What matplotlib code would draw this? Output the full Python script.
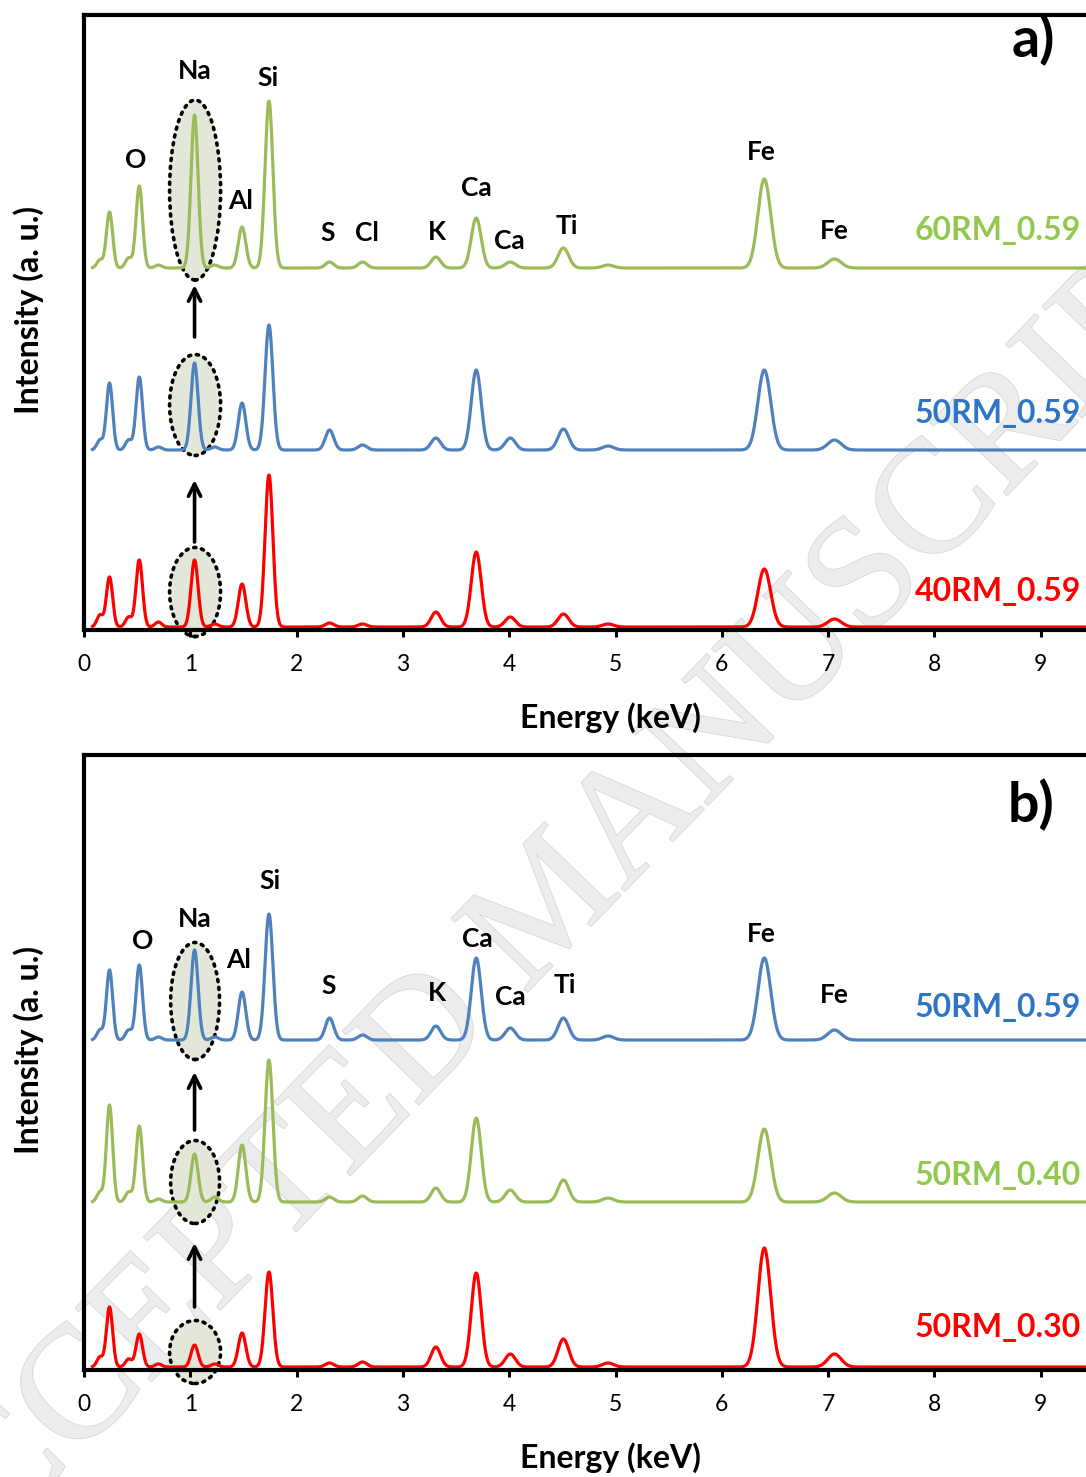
import numpy as np
import matplotlib.pyplot as plt
from matplotlib.patches import Ellipse
import matplotlib.patheffects as pe

plt.rcParams['font.family'] = ['Lato', 'DejaVu Sans']

# emission lines (keV) used to build the EDS spectra
lines_kev = [0.15, 0.24, 0.42, 0.52, 0.70, 1.04, 1.23, 1.487, 1.74, 2.31, 2.62,
             3.31, 3.69, 4.01, 4.51, 4.93, 6.40, 7.06]

# peak heights (a.u.) for each line, per sample
h_60rm_059 = [8, 56, 10, 82, 3, 153, 3, 41, 167, 6, 6, 11, 50, 6, 20, 3, 89, 9]
h_50rm_059a = [10, 67, 10, 73, 3, 87, 3, 47, 125, 20, 5, 12, 80, 12, 21, 4, 80, 10]
h_40rm_059 = [12, 50, 10, 67, 5, 67, 3, 43, 152, 4, 3, 15, 75, 10, 13, 3, 58, 8]

h_50rm_059b = [10, 70, 10, 75, 3, 90, 3, 48, 126, 22, 5, 14, 82, 12, 22, 4, 82, 10]
h_50rm_040 = [10, 97, 10, 76, 3, 48, 5, 57, 142, 5, 6, 14, 84, 12, 22, 4, 73, 9]
h_50rm_030 = [10, 60, 8, 33, 3, 22, 3, 34, 95, 4, 5, 20, 94, 13, 28, 4, 119, 13]

# vertical offsets of the stacked spectra
offsets_a = [362, 180, 3]
offsets_b = [330, 168, 3]

names_a = ['60RM_0.59', '50RM_0.59', '40RM_0.59']
names_b = ['50RM_0.59', '50RM_0.40', '50RM_0.30']

line_green = '#9BBB59'
line_blue = '#4F81BD'
line_red = '#FF0000'
txt_green = '#92C84E'
txt_blue = '#2E75C6'
txt_red = '#FF0000'

# element labels: (text, keV, y)
elements_a = [('O', 0.49, 470), ('Na', 1.04, 559), ('Si', 1.73, 552), ('Al', 1.47, 429),
              ('S', 2.29, 397), ('Cl', 2.66, 397), ('K', 3.32, 398), ('Ca', 3.69, 442),
              ('Ca', 4.0, 389), ('Ti', 4.54, 404), ('Fe', 6.37, 478), ('Fe', 7.06, 399)]
elements_b = [('O', 0.55, 429), ('Na', 1.04, 451), ('Al', 1.45, 410), ('Si', 1.75, 489),
              ('S', 2.30, 384), ('K', 3.32, 377), ('Ca', 3.70, 431), ('Ca', 4.01, 373),
              ('Ti', 4.52, 385), ('Fe', 6.37, 436), ('Fe', 7.06, 375)]

energy = np.arange(0.08, 10.0, 0.004)


def spectrum(heights, base):
    y = np.full_like(energy, float(base))
    for e0, h in zip(lines_kev, heights):
        s = 0.028 + 0.005 * e0
        y += h * np.exp(-0.5 * ((energy - e0) / s) ** 2)
    return y


def panel(ax, series, offsets, colors, tcolors, names, label_y, elements,
          ellipses, arrows, tag):
    ax.set_facecolor('none')
    ax.set_xlim(0, 10)
    ax.set_ylim(0, 615)
    for (cx, cy, w, h) in ellipses:
        ax.add_patch(Ellipse((cx, cy), w, h, facecolor='#e3e7da', edgecolor='black',
                             lw=2.6, linestyle=(0, (0.6, 1.6)), capstyle='round',
                             zorder=1, clip_on=False))
    for heights, off, c in zip(series, offsets, colors):
        ax.plot(energy, spectrum(heights, off), color=c, lw=2.3, zorder=2)
    for name, yl, tc in zip(names, label_y, tcolors):
        ax.text(9.38, yl, name, color=tc, fontsize=23, fontweight='bold',
                ha='right', va='center')
    for t, ex, ey in elements:
        ax.text(ex, ey, t, fontsize=19, fontweight='bold', ha='center', va='center')
    for y0, y1 in arrows:
        ax.annotate('', xy=(1.04, y1), xytext=(1.04, y0),
                    arrowprops=dict(arrowstyle='->', lw=2.6, color='black',
                                    mutation_scale=22, shrinkA=0, shrinkB=0))
    ax.text(9.13, tag[1], tag[0], fontsize=40, fontweight='bold', ha='right', va='center')

    for side in ['left', 'bottom', 'top', 'right']:
        ax.spines[side].set_linewidth(3)
    ax.set_xticks(range(0, 10))
    ax.set_yticks([])
    ax.tick_params(axis='x', direction='out', length=5, width=2.2, pad=12,
                   labelsize=16.5)
    ax.set_xlabel('Energy (keV)', fontsize=23, fontweight='bold', va='center')
    ax.xaxis.set_label_coords(0.495, -0.143)
    ax.set_ylabel('Intensity (a. u.)', fontsize=23, fontweight='bold', va='center')
    ax.yaxis.set_label_coords(-0.052, 0.52)


fig = plt.figure(figsize=(10.86, 14.77), dpi=100)
ax_a = fig.add_axes([84 / 1086, 1 - 630 / 1477, 1063 / 1086, 615 / 1477])
ax_b = fig.add_axes([84 / 1086, 1 - 1370 / 1477, 1063 / 1086, 615 / 1477])

panel(ax_a, [h_60rm_059, h_50rm_059a, h_40rm_059], offsets_a,
      [line_green, line_blue, line_red], [txt_green, txt_blue, txt_red],
      names_a, [399, 216, 39], elements_a,
      [(1.045, 440, 0.48, 180), (1.045, 225, 0.48, 101), (1.045, 38, 0.48, 89)],
      [(293, 345), (88, 150)], ('a)', 590))

panel(ax_b, [h_50rm_059b, h_50rm_040, h_50rm_030], offsets_b,
      [line_blue, line_green, line_red], [txt_blue, txt_green, txt_red],
      names_b, [362, 194, 43], elements_b,
      [(1.045, 369, 0.46, 117), (1.045, 188, 0.46, 83), (1.045, 18, 0.48, 63)],
      [(240, 298), (63, 127)], ('b)', 565))

# faint diagonal watermark behind both panels
fig.text(0.51, 0.385, 'ACCEPTED MANUSCRIPT', rotation=46, fontsize=116,
         family='Liberation Serif', color='#ececec',
         ha='center', va='center', zorder=-5,
         path_effects=[pe.withStroke(linewidth=1.4, foreground='#dadada')])

fig.savefig('out.png', dpi=100)
